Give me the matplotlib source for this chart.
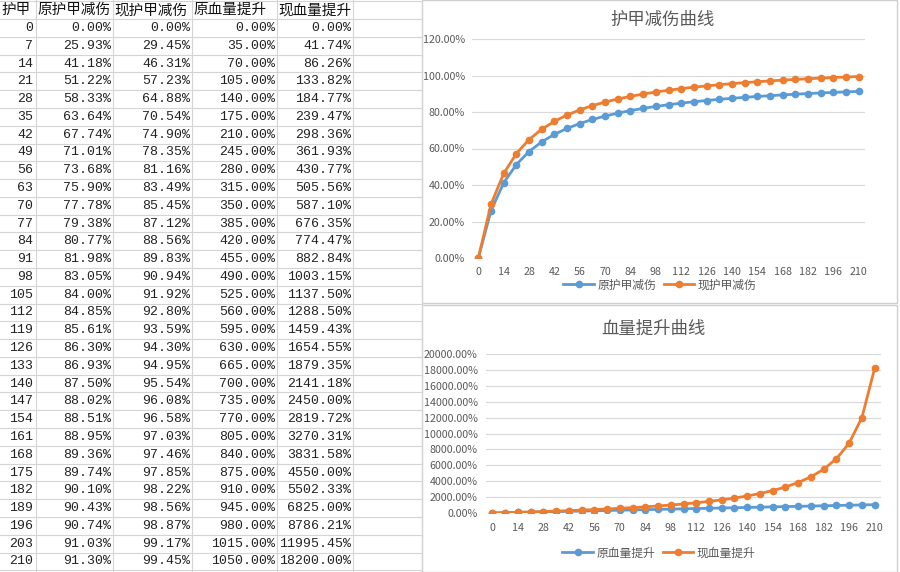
import matplotlib
matplotlib.use("Agg")
import matplotlib.pyplot as plt
from matplotlib.patches import Rectangle
from matplotlib.ticker import FuncFormatter

plt.rcParams['font.family'] = ['Noto Sans CJK SC', 'DejaVu Sans']

# data read from the spreadsheet
armor = [0, 7, 14, 21, 28, 35, 42, 49, 56, 63, 70, 77, 84, 91, 98, 105, 112, 119,
         126, 133, 140, 147, 154, 161, 168, 175, 182, 189, 196, 203, 210]
orig_reduction = [0.00, 25.93, 41.18, 51.22, 58.33, 63.64, 67.74, 71.01, 73.68, 75.90,
                  77.78, 79.38, 80.77, 81.98, 83.05, 84.00, 84.85, 85.61, 86.30, 86.93,
                  87.50, 88.02, 88.51, 88.95, 89.36, 89.74, 90.10, 90.43, 90.74, 91.03, 91.30]
new_reduction = [0.00, 29.45, 46.31, 57.23, 64.88, 70.54, 74.90, 78.35, 81.16, 83.49,
                 85.45, 87.12, 88.56, 89.83, 90.94, 91.92, 92.80, 93.59, 94.30, 94.95,
                 95.54, 96.08, 96.58, 97.03, 97.46, 97.85, 98.22, 98.56, 98.87, 99.17, 99.45]
orig_hp = [0.00, 35.00, 70.00, 105.00, 140.00, 175.00, 210.00, 245.00, 280.00, 315.00,
           350.00, 385.00, 420.00, 455.00, 490.00, 525.00, 560.00, 595.00, 630.00, 665.00,
           700.00, 735.00, 770.00, 805.00, 840.00, 875.00, 910.00, 945.00, 980.00, 1015.00, 1050.00]
new_hp = [0.00, 41.74, 86.26, 133.82, 184.77, 239.47, 298.36, 361.93, 430.77, 505.56,
          587.10, 676.35, 774.47, 882.84, 1003.15, 1137.50, 1288.50, 1459.43, 1654.55, 1879.35,
          2141.18, 2450.00, 2819.72, 3270.31, 3831.58, 4550.00, 5502.33, 6825.00, 8786.21,
          11995.45, 18200.00]

headers = ["护甲", "原护甲减伤", "现护甲减伤", "原血量提升", "现血量提升"]

BLUE = "#5B9BD5"
ORANGE = "#ED7D31"
GRAY = "#595959"

W, H = 900, 572
fig = plt.figure(figsize=(9, 5.72), dpi=100)

# background: the spreadsheet, in pixel coordinates
bg = fig.add_axes([0, 0, 1, 1])
bg.set_xlim(0, W)
bg.set_ylim(H, 0)
bg.axis("off")

col_edges = [36, 113, 192, 277, 353, 422]
row_h = 17.78
first_center = 28.0
for k in range(-1, 32):
    y = first_center - row_h / 2 + k * row_h
    bg.plot([0, 422], [y, y], color="#d4d4d4", lw=0.8)
for x in col_edges:
    bg.plot([x, x], [0, H], color="#d4d4d4", lw=0.8)

lefts = [0] + col_edges[:4]
for j, h in enumerate(headers):
    bg.text(lefts[j] + 1, first_center - row_h, h, fontsize=10.5,
            ha="left", va="center", color="#111111")

columns = [orig_reduction, new_reduction, orig_hp, new_hp]
for i, a in enumerate(armor):
    y = first_center + i * row_h
    bg.text(col_edges[0] - 3, y, str(a), fontsize=9.5, family="Liberation Mono",
            ha="right", va="center", color="#222222")
    for j, col in enumerate(columns):
        bg.text(col_edges[j + 1] - 2, y, f"{col[i]:.2f}%", fontsize=9.5,
                family="Liberation Mono", ha="right", va="center", color="#222222")

# chart boxes
bg.add_patch(Rectangle((422, 0), 475, 303, facecolor="white", edgecolor="#d0d0d0", lw=1))
bg.add_patch(Rectangle((422, 305), 475, 267, facecolor="white", edgecolor="#d0d0d0", lw=1))

pos = list(range(len(armor)))
tick_pos = pos[::2]
tick_lab = [str(a) for a in armor[::2]]


def style(ax, ylim, step, ypad, xpad):
    ax.set_facecolor("none")
    ax.set_xlim(-0.5, len(armor) - 0.5)
    ax.set_ylim(*ylim)
    ax.set_yticks(range(ylim[0], ylim[1] + 1, step))
    ax.yaxis.set_major_formatter(FuncFormatter(lambda v, p: f"{v:.2f}%"))
    ax.set_xticks(tick_pos)
    ax.set_xticklabels(tick_lab)
    ax.grid(axis="y", color="#d9d9d9", lw=0.8)
    ax.set_axisbelow(True)
    for s in ax.spines.values():
        s.set_visible(False)
    ax.tick_params(axis="y", length=0, labelsize=7.7, labelcolor=GRAY, pad=ypad)
    ax.tick_params(axis="x", length=0, labelsize=7.7, labelcolor=GRAY, pad=xpad)


def fx(px):
    return px / W


def fy(py):
    return 1 - py / H


# chart 1: armor damage reduction
ax1 = fig.add_axes([fx(472), fy(258), fx(865 - 472), (258 - 39) / H])
style(ax1, (0, 120), 20, 5, 6.5)
ax1.plot(pos, orig_reduction, color=BLUE, lw=2.0, marker="o", ms=4.5, label="原护甲减伤")
ax1.plot(pos, new_reduction, color=ORANGE, lw=2.0, marker="o", ms=4.5, label="现护甲减伤")
fig.text(fx(663), fy(20), "护甲减伤曲线", fontsize=12.5, color=GRAY, ha="center", va="center")
ax1.legend(loc="center", bbox_to_anchor=(fx(660), fy(285)), bbox_transform=fig.transFigure,
           ncol=2, frameon=False, fontsize=8.5, handlelength=2.6, handletextpad=0.3,
           columnspacing=0.6, labelcolor=GRAY)

# chart 2: hp increase
ax2 = fig.add_axes([fx(486), fy(513), fx(881 - 486), (513 - 354) / H])
style(ax2, (0, 20000), 2000, 6, 7)
ax2.plot(pos, orig_hp, color=BLUE, lw=2.0, marker="o", ms=4.5, label="原血量提升")
ax2.plot(pos, new_hp, color=ORANGE, lw=2.0, marker="o", ms=4.5, label="现血量提升")
fig.text(fx(653), fy(329), "血量提升曲线", fontsize=12.5, color=GRAY, ha="center", va="center")
ax2.legend(loc="center", bbox_to_anchor=(fx(659), fy(553)), bbox_transform=fig.transFigure,
           ncol=2, frameon=False, fontsize=8.5, handlelength=2.6, handletextpad=0.3,
           columnspacing=0.6, labelcolor=GRAY)

fig.savefig("out.png", dpi=100)
